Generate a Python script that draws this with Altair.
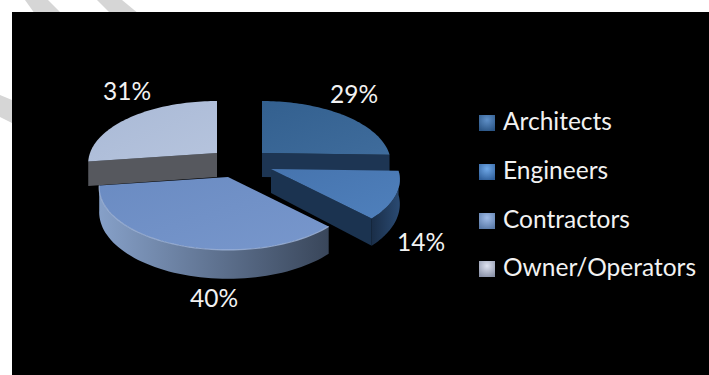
import math
import altair as alt
import pandas as pd

# Survey shares by respondent group, clockwise from twelve o'clock
groups = ["Architects", "Engineers", "Contractors", "Owner/Operators"]
shares = [29, 14, 40, 31]
share_labels = ["29%", "14%", "40%", "31%"]

# Slice centres after explode, and the tilted-disc projection
hubs = [(262, 153), (271, 169), (228, 177), (217, 153)]
RADIUS_X, RADIUS_Y, PERSPECTIVE, DEPTH = 127, 60.7, 0.168, 24

label_x = [354, 421, 214, 127]
label_y = [96, 244, 300, 93]
legend_y = [123, 172, 221, 269]

top_colors = [("#33608f", "#3f6c9c"), ("#4674ae", "#4f80bc"), ("#6a8bc2", "#7897cc"), ("#a9b9d6", "#b6c4dd")]
rim_colors = {1: ("#1a2e48", "#2a4a72"), 2: ("#86a0c8", "#39465a")}
edge_colors = {0: "#1d3553", 1: "#1b3350", 3: "#56585e"}
key_colors = [("#5f90c8", "#2b5585"), ("#6fa8e8", "#30609c"), ("#a0bce8", "#5a7aa8"), ("#dfe3f0", "#8a92a8")]


def project(hub, degrees, lift=0.0):
    a = math.radians(degrees)
    u, v = math.sin(a), -math.cos(a)
    s = 1 / (1 - PERSPECTIVE * v)
    return (hub[0] + RADIUS_X * u * s, hub[1] + RADIUS_Y * v * s + lift * s)


def arc_points(hub, start, end, lift=0.0, steps=60):
    return [project(hub, start + (end - start) * i / steps, lift) for i in range(steps + 1)]


total = sum(shares)
spans, running = [], 0.0
for value in shares:
    spans.append((running, running + value / total * 360))
    running = spans[-1][1]


def frame(points):
    return pd.DataFrame({"x": [p[0] for p in points], "y": [p[1] for p in points], "i": range(len(points))})


x_scale = alt.Scale(domain=[0, 709], range=[0, 709], nice=False, zero=False)
y_scale = alt.Scale(domain=[375, 0], range=[375, 0], nice=False, zero=False)
x_enc = alt.X("x:Q", scale=x_scale, axis=None)
y_enc = alt.Y("y:Q", scale=y_scale, axis=None)


def gradient(pair, x2=1, y2=0):
    return alt.Gradient(
        gradient="linear", x1=0, y1=0, x2=x2, y2=y2,
        stops=[alt.GradientStop(offset=0, color=pair[0]), alt.GradientStop(offset=1, color=pair[1])],
    )


def polygon(points, fill):
    return (
        alt.Chart(frame(points))
        .mark_line(filled=True, fill=fill, stroke=None, interpolate="linear-closed", clip=True)
        .encode(x=x_enc, y=y_enc, order="i:O")
    )


layers = []

# Paper with the diagonal bands showing around the dark panel
for band in [
    [(25, 0), (48, 0), (62, 14), (35, 14)],
    [(97, 0), (122, 0), (139, 14), (111, 14)],
    [(0, 95), (12, 100), (12, 123), (0, 117)],
]:
    layers.append(polygon(band, "#d6d6d6"))

layers.append(
    alt.Chart(pd.DataFrame({"x": [12], "x2": [709], "y": [12], "y2": [375]}))
    .mark_rect(color="black")
    .encode(x=x_enc, x2="x2:Q", y=y_enc, y2="y2:Q")
)

# Back slices first so the front ones overlap them
cut_walls = {0: 1, 1: 1, 3: 0}
for idx in [0, 3, 1, 2]:
    hub = hubs[idx]
    start, end = spans[idx]
    base = (hub[0], hub[1] + DEPTH)
    # side wall along the cut facing the viewer
    if idx in cut_walls:
        cut_angle = spans[idx][cut_walls[idx]]
        rim_end = project(hub, cut_angle)
        rim_low = project(hub, cut_angle, DEPTH)
        layers.append(polygon([hub, rim_end, rim_low, base], edge_colors[idx]))
    # curved outer wall where it faces the viewer
    if idx in rim_colors:
        top_arc = arc_points(hub, start, end)
        low_arc = arc_points(hub, start, end, DEPTH)
        layers.append(polygon(top_arc + low_arc[::-1], gradient(rim_colors[idx])))
    # top face
    layers.append(polygon([hub] + arc_points(hub, start, end), gradient(top_colors[idx], 1, 1)))
    # soft highlight along the front rim
    if idx == 2:
        layers.append(
            alt.Chart(frame(arc_points(hub, start, end)))
            .mark_line(stroke="#a3b8dc", strokeWidth=1.2, opacity=0.8)
            .encode(x=x_enc, y=y_enc, order="i:O")
        )

# Percentage labels
layers.append(
    alt.Chart(pd.DataFrame({"x": label_x, "y": label_y, "t": share_labels}))
    .mark_text(font="Lato", fontSize=24.5, color="#f2f2f2", align="center", baseline="middle")
    .encode(x=x_enc, y=y_enc, text="t:N")
)

# Key: swatches and their names
for ypos, colour in zip(legend_y, key_colors):
    glow = alt.Gradient(
        gradient="radial", x1=0.5, y1=0.3, r1=0, x2=0.5, y2=0.3, r2=0.75,
        stops=[alt.GradientStop(offset=0, color=colour[0]), alt.GradientStop(offset=1, color=colour[1])],
    )
    layers.append(
        alt.Chart(pd.DataFrame({"x": [487], "y": [ypos]}))
        .mark_square(size=256, opacity=1, fill=glow, stroke=None)
        .encode(x=x_enc, y=y_enc)
    )
layers.append(
    alt.Chart(pd.DataFrame({"x": [503] * 4, "y": legend_y, "t": groups}))
    .mark_text(font="Lato", fontSize=24.5, color="#f2f2f2", align="left", baseline="middle")
    .encode(x=x_enc, y=y_enc, text="t:N")
)

chart = (
    alt.layer(*layers)
    .properties(width=709, height=375, padding=0, autosize=alt.AutoSizeParams(type="none"), background="white")
    .configure_view(stroke=None)
)

chart.save("out.html", embed_options={"renderer": "svg", "actions": False})
